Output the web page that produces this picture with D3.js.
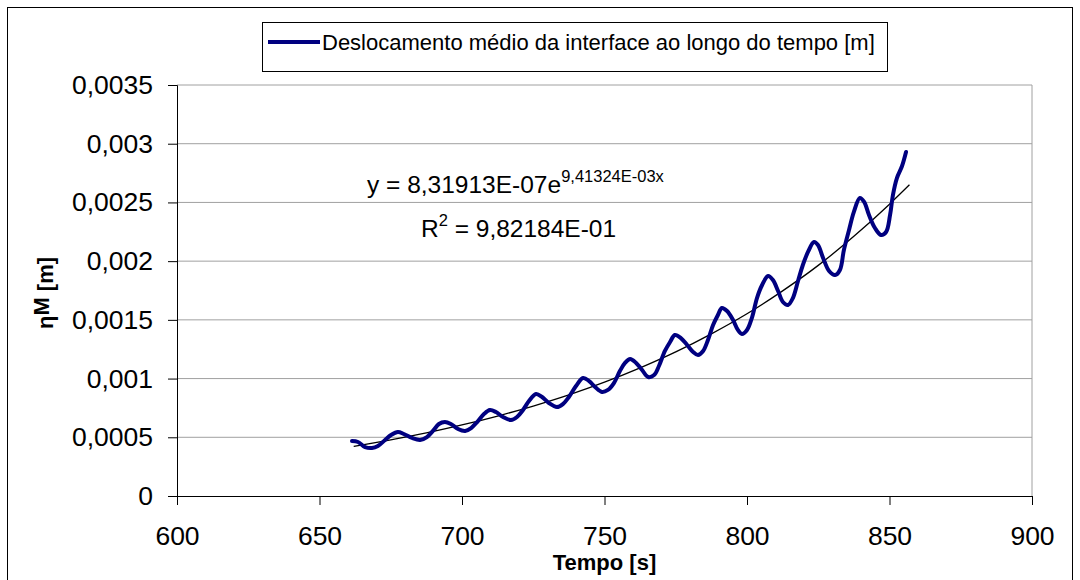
<!DOCTYPE html>
<html>
<head>
<meta charset="utf-8">
<script src="https://cdn.jsdelivr.net/npm/d3@7"></script>
<style>
  html, body { margin: 0; padding: 0; background: #fff; }
  svg { display: block; font-family: "Liberation Sans", Arial, sans-serif; }
</style>
</head>
<body>
<svg id="chart" width="1080" height="580"></svg>
<script>
// ---- data ----
const timeS = [661.4,663.5,666.0,668.4,670.5,673.0,675.1,677.5,679.6,682.5,685.3,687.7,689.8,691.9,694.0,696.1,698.6,701.1,703.2,705.3,707.7,709.8,711.9,714.4,717.2,719.3,721.4,723.5,726.0,728.1,730.5,733.3,735.4,737.5,740.0,742.5,744.6,746.7,749.1,751.2,753.3,755.4,757.2,759.0,761.1,763.2,765.3,767.4,769.1,771.2,773.0,774.7,776.8,779.0,781.1,782.8,784.6,786.3,788.1,789.8,791.2,793.0,795.1,796.8,798.2,800.0,801.8,803.5,805.3,807.4,809.1,810.9,812.6,814.4,816.1,817.9,819.6,821.4,823.5,824.9,826.7,828.8,830.9,832.6,834.0,835.8,837.5,839.6,841.1,842.8,844.9,847.0,848.8,850.2,851.2,852.6,854.4,855.8];
const etaM = [0.000468,0.000460,0.000417,0.000409,0.000426,0.000477,0.000519,0.000545,0.000528,0.000494,0.000477,0.000502,0.000554,0.000613,0.000630,0.000613,0.000571,0.000554,0.000579,0.000630,0.000698,0.000732,0.000715,0.000673,0.000647,0.000673,0.000732,0.000809,0.000869,0.000843,0.000792,0.000758,0.000783,0.000843,0.000937,0.001005,0.000979,0.000928,0.000886,0.000903,0.000962,0.001064,0.001133,0.001167,0.001133,0.001073,0.001013,0.001030,0.001107,0.001235,0.001311,0.001371,0.001345,0.001286,0.001226,0.001201,0.001235,0.001328,0.001456,0.001541,0.001601,0.001575,0.001499,0.001414,0.001380,0.001414,0.001524,0.001686,0.001797,0.001873,0.001839,0.001746,0.001652,0.001627,0.001686,0.001831,0.001967,0.002078,0.002163,0.002137,0.002027,0.001916,0.001882,0.001925,0.002095,0.002265,0.002419,0.002538,0.002504,0.002393,0.002282,0.002223,0.002248,0.002393,0.002563,0.002708,0.002810,0.002929];
// exponential trend line
const trendT = [662,675,687.5,700,712.5,725,737.5,750,762.5,775,787.5,800,812.5,825,837.5,850,857];
const trendV = [0.000423,0.000478,0.000537,0.000605,0.000681,0.000766,0.000861,0.000969,0.001091,0.001227,0.001381,0.001552,0.001747,0.001964,0.002211,0.002485,0.002650];
const xTicks = [600,650,700,750,800,850,900];
const yTicks = [0,0.0005,0.001,0.0015,0.002,0.0025,0.003,0.0035];
const legendLabel = "Deslocamento médio da interface ao longo do tempo [m]";
const xTitle = "Tempo [s]";
const eqMain = "y = 8,31913E-07e";
const eqExp = "9,41324E-03x";
const r2Text = "9,82184E-01";

const svg = d3.select("#chart");
const L = 177, R = 1032, T = 85, B = 496;
const x = d3.scaleLinear().domain([600, 900]).range([L, R]);
const y = d3.scaleLinear().domain([0, 0.0035]).range([B, T]);
const fmt = v => String(v).replace(".", ",");

// outer border
svg.append("rect").attr("x", 7.5).attr("y", 7.5).attr("width", 1065).attr("height", 600)
  .attr("fill", "none").attr("stroke", "#000").attr("stroke-width", 1);

// gridlines
svg.append("g").selectAll("line").data(yTicks.filter(d => d > 0)).join("line")
  .attr("x1", L).attr("x2", R).attr("y1", d => y(d)).attr("y2", d => y(d))
  .attr("stroke", "#a0a0a0").attr("stroke-width", 1);
// right plot border
svg.append("line").attr("x1", R).attr("x2", R).attr("y1", T).attr("y2", B)
  .attr("stroke", "#a0a0a0");

// axes
const yAxis = svg.append("g").attr("transform", `translate(${L},0)`)
  .call(d3.axisLeft(y).tickValues(yTicks).tickFormat(fmt).tickSize(9).tickPadding(15));
const xAxis = svg.append("g").attr("transform", `translate(0,${B})`)
  .call(d3.axisBottom(x).tickValues(xTicks).tickFormat(fmt).tickSize(9).tickPadding(21));
[yAxis, xAxis].forEach(g => {
  g.select(".domain").attr("stroke", "#000").attr("stroke-width", 1);
  g.selectAll(".tick line").attr("stroke", "#000");
  g.selectAll("text").attr("fill", "#000").style("font-size", "26.5px")
    .style("font-family", '"Liberation Sans", Arial, sans-serif');
});

// trend line
svg.append("path")
  .datum(trendT.map((t, i) => [t, trendV[i]]))
  .attr("fill", "none").attr("stroke", "#000").attr("stroke-width", 1.3)
  .attr("d", d3.line().x(d => x(d[0])).y(d => y(d[1])).curve(d3.curveMonotoneX));

// data line
svg.append("path")
  .datum(timeS.map((t, i) => [t, etaM[i]]))
  .attr("fill", "none").attr("stroke", "#000080").attr("stroke-width", 4)
  .attr("stroke-linejoin", "round").attr("stroke-linecap", "round")
  .attr("d", d3.line().x(d => x(d[0])).y(d => y(d[1])).curve(d3.curveCatmullRom.alpha(0.5)));

// equation
const eq = svg.append("text").attr("x", 367).attr("y", 193).style("font-size", "24.5px").attr("fill", "#000");
eq.append("tspan").text(eqMain);
eq.append("tspan").attr("dy", -11).style("font-size", "16.5px").text(eqExp);
const r2 = svg.append("text").attr("x", 421).attr("y", 237).style("font-size", "24.5px").attr("fill", "#000");
r2.append("tspan").text("R");
r2.append("tspan").attr("dy", -11).style("font-size", "16.5px").text("2");
r2.append("tspan").attr("dy", 11).text(" = " + r2Text);

// axis titles
svg.append("text").attr("x", x(750)).attr("y", 570).attr("text-anchor", "middle")
  .style("font-size", "22px").style("font-weight", "bold").text(xTitle);
const yt = svg.append("text").attr("transform", "translate(53,293) rotate(-90)")
  .attr("text-anchor", "middle").style("font-size", "22px").style("font-weight", "bold");
yt.append("tspan").text("η");
yt.append("tspan").attr("dy", -4).text("M");
yt.append("tspan").attr("dy", 4).text(" [m]");

// legend
svg.append("rect").attr("x", 262.5).attr("y", 22.5).attr("width", 625).attr("height", 49)
  .attr("fill", "#fff").attr("stroke", "#000");
svg.append("line").attr("x1", 268).attr("x2", 320).attr("y1", 42).attr("y2", 42)
  .attr("stroke", "#000080").attr("stroke-width", 4);
svg.append("text").attr("x", 322).attr("y", 50).style("font-size", "22px").text(legendLabel);
</script>
</body>
</html>
